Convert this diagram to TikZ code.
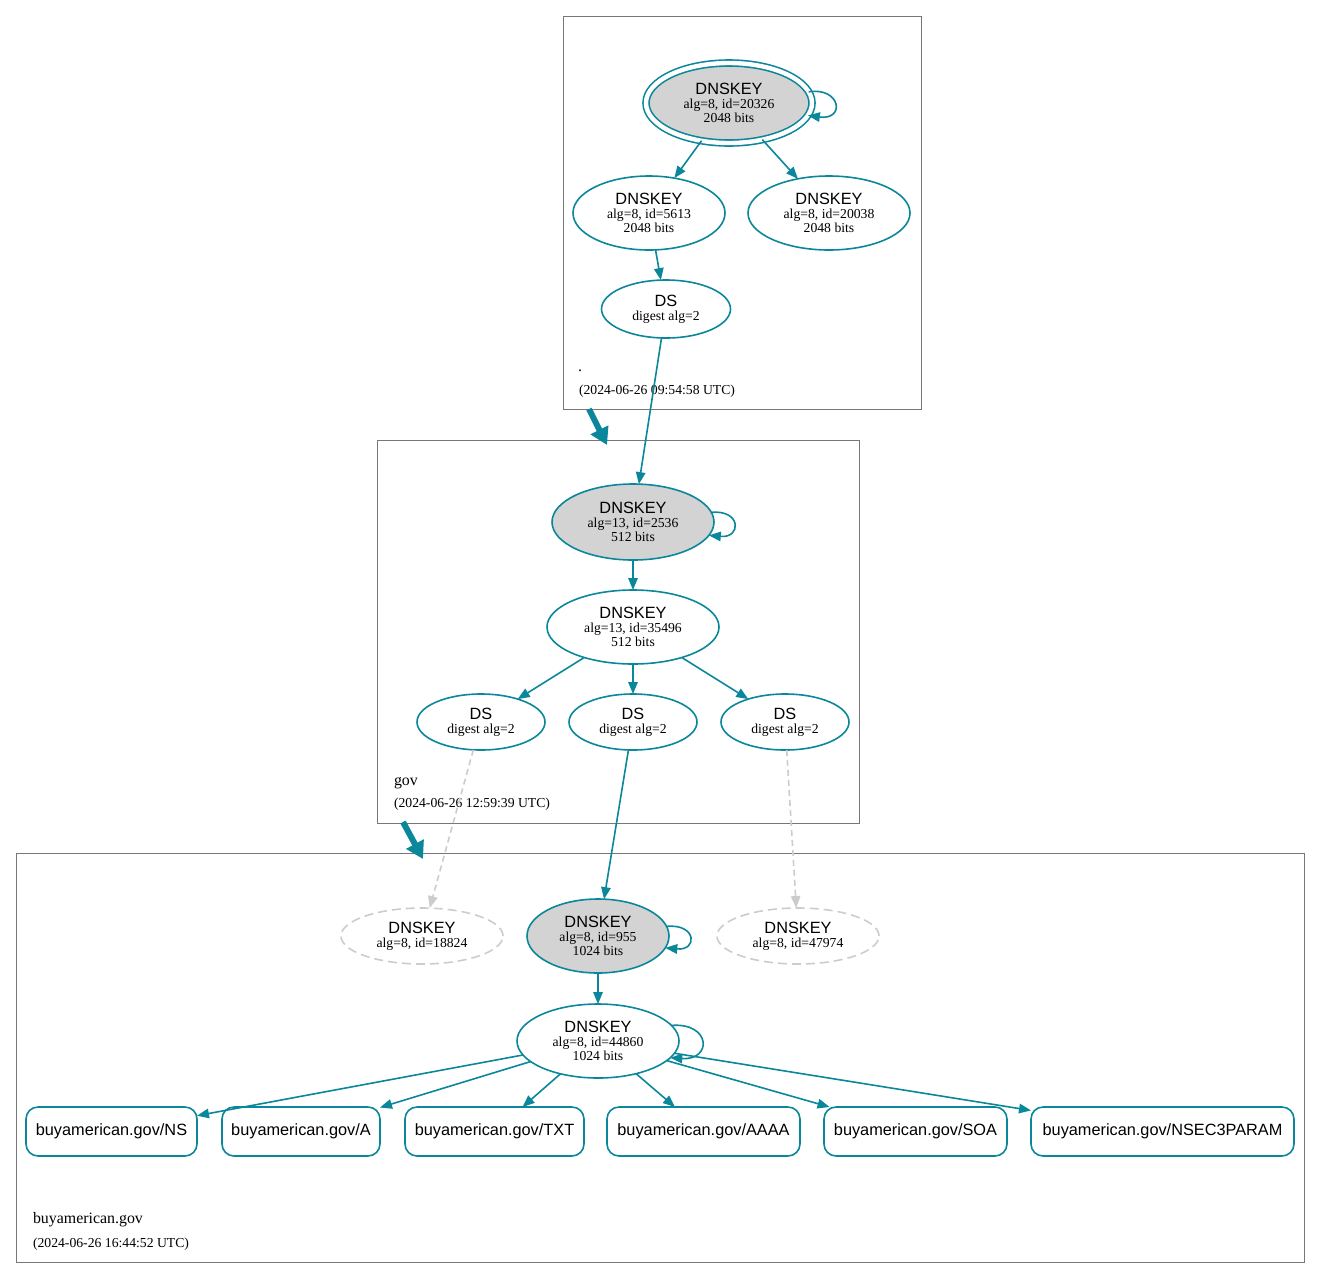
\documentclass[tikz,border=0pt]{standalone}
\usepackage{fontspec}
\setmainfont{Liberation Serif}
\newfontfamily\hvfam{Liberation Sans}
\usetikzlibrary{shapes.geometric,arrows.meta}
\definecolor{dteal}{HTML}{0A879A}
\definecolor{kgray}{HTML}{D3D3D3}
\definecolor{cgray}{HTML}{777777}
\definecolor{dgray}{HTML}{CCCCCC}
\newcommand\ttl{\hvfam\fontsize{16.3}{16}\selectfont}
\begin{document}
\begin{tikzpicture}[x=1pt,y=-1pt,
  every node/.style={inner sep=0pt, outer sep=0pt},
  key/.style={ellipse, draw=dteal, line width=1.6pt, align=center, font=\fontsize{13.7}{14}\selectfont},
  ksk/.style={key, fill=kgray},
  dkey/.style={ellipse, draw=dgray, line width=1.6pt, dash pattern=on 9pt off 5pt, align=center, font=\fontsize{13.7}{14}\selectfont},
  rrset/.style={rectangle, rounded corners=12pt, draw=dteal, line width=1.6pt, font=\ttl, minimum height=49pt},
  cluster/.style={rectangle, draw=cgray, line width=0.9pt},
  clabel/.style={anchor=base west, font=\fontsize{15.9}{16}\selectfont},
  cdate/.style={anchor=base west, font=\fontsize{13.7}{14}\selectfont},
  edge/.style={draw=dteal, line width=1.6pt, -{Triangle[length=12pt,width=9.5pt]}},
  dedge/.style={draw=dgray, line width=1.6pt, dash pattern=on 6pt off 4pt, -{Triangle[length=12pt,width=9.5pt]}},
  deleg/.style={draw=dteal, line width=6pt, -{Triangle[length=17pt,width=19pt]}}
]
\useasboundingbox (0,0) rectangle (1320,1278);

% clusters
\node[cluster, minimum width=358pt, minimum height=393pt] (croot) at (742,212.5) {};
\node[cluster, minimum width=482pt, minimum height=383pt] (cgov) at (618,631.5) {};
\node[cluster, minimum width=1288pt, minimum height=409pt] (cbuy) at (660,1057.5) {};

\node[clabel] (lroot) at (578,371) {.};
\node[cdate] (droot) at (579,394) {(2024-06-26 09:54:58 UTC)};
\node[clabel] (lgov) at (394,785) {gov};
\node[cdate] (dgov) at (394,807) {(2024-06-26 12:59:39 UTC)};
\node[clabel] (lbuy) at (33,1223) {buyamerican.gov};
\node[cdate] (dbuy) at (33,1247) {(2024-06-26 16:44:52 UTC)};

% root zone
\node[ksk, double=white, double distance=4.4pt, minimum width=166pt, minimum height=80pt] (rk) at (729,103) {{\ttl DNSKEY}\\alg=8, id=20326\\2048 bits};
\node[key, minimum width=152pt, minimum height=74pt] (rz1) at (649,213) {{\ttl DNSKEY}\\alg=8, id=5613\\2048 bits};
\node[key, minimum width=162pt, minimum height=74pt] (rz2) at (829,213) {{\ttl DNSKEY}\\alg=8, id=20038\\2048 bits};
\node[key, minimum width=129pt, minimum height=58pt] (rds) at (666,309) {{\ttl DS}\\digest alg=2};

% gov zone
\node[ksk, minimum width=162pt, minimum height=76pt] (gk) at (633,522) {{\ttl DNSKEY}\\alg=13, id=2536\\512 bits};
\node[key, minimum width=172pt, minimum height=74pt] (gz) at (633,627) {{\ttl DNSKEY}\\alg=13, id=35496\\512 bits};
\node[key, minimum width=128pt, minimum height=56pt] (gds1) at (481,722) {{\ttl DS}\\digest alg=2};
\node[key, minimum width=128pt, minimum height=56pt] (gds2) at (633,722) {{\ttl DS}\\digest alg=2};
\node[key, minimum width=128pt, minimum height=56pt] (gds3) at (785,722) {{\ttl DS}\\digest alg=2};

% buyamerican.gov zone
\node[dkey, minimum width=162pt, minimum height=56pt] (bk1) at (422,936) {{\ttl DNSKEY}\\alg=8, id=18824};
\node[ksk, minimum width=142pt, minimum height=74pt] (bk) at (598,936) {{\ttl DNSKEY}\\alg=8, id=955\\1024 bits};
\node[dkey, minimum width=162pt, minimum height=56pt] (bk2) at (798,936) {{\ttl DNSKEY}\\alg=8, id=47974};
\node[key, minimum width=162pt, minimum height=74pt] (bz) at (598,1041) {{\ttl DNSKEY}\\alg=8, id=44860\\1024 bits};

\node[rrset, minimum width=171pt] (rns) at (111.5,1131.5) {buyamerican.gov/NS};
\node[rrset, minimum width=158pt] (ra) at (301,1131.5) {buyamerican.gov/A};
\node[rrset, minimum width=179pt] (rtxt) at (494.5,1131.5) {buyamerican.gov/TXT};
\node[rrset, minimum width=193pt] (raaaa) at (703.5,1131.5) {buyamerican.gov/AAAA};
\node[rrset, minimum width=183pt] (rsoa) at (915.5,1131.5) {buyamerican.gov/SOA};
\node[rrset, minimum width=263pt] (rn3) at (1162.5,1131.5) {buyamerican.gov/NSEC3PARAM};

% delegation arrows
\coordinate (d1a) at (589,409);
\coordinate (d1b) at (607,445);
\coordinate (d2a) at (403,822);
\coordinate (d2b) at (423,859);
\draw[deleg] (d1a) -- (d1b);
\draw[deleg] (d2a) -- (d2b);

% self loops
\draw[edge] (rk.8) .. controls +(32,-5) and +(38,5) .. (rk.-9);
\draw[edge] (gk.7) .. controls +(30,-3) and +(33,3) .. (gk.-10);
\draw[edge] (bk.8) .. controls +(30,-3) and +(33,3) .. (bk.-10);
\draw[edge] (bz.12) .. controls +(40,-3) and +(42,3) .. (bz.-13);

% root edges
\draw[edge] (rk) -- (rz1);
\draw[edge] (rk) -- (rz2);
\draw[edge] (rz1) -- (rds);
\draw[edge] (rds) -- (gk);

% gov edges
\draw[edge] (gk) -- (gz);
\draw[edge] (gz) -- (gds1);
\draw[edge] (gz) -- (gds2);
\draw[edge] (gz) -- (gds3);
\draw[dedge] (gds1) -- (bk1);
\draw[edge] (gds2) -- (bk);
\draw[dedge] (gds3) -- (bk2);

% buyamerican edges
\draw[edge] (bk) -- (bz);
\draw[edge] (bz) -- (rns);
\draw[edge] (bz) -- (ra);
\draw[edge] (bz) -- (rtxt);
\draw[edge] (bz) -- (raaaa);
\draw[edge] (bz) -- (rsoa);
\draw[edge] (bz) -- (rn3);
\end{tikzpicture}
\end{document}
